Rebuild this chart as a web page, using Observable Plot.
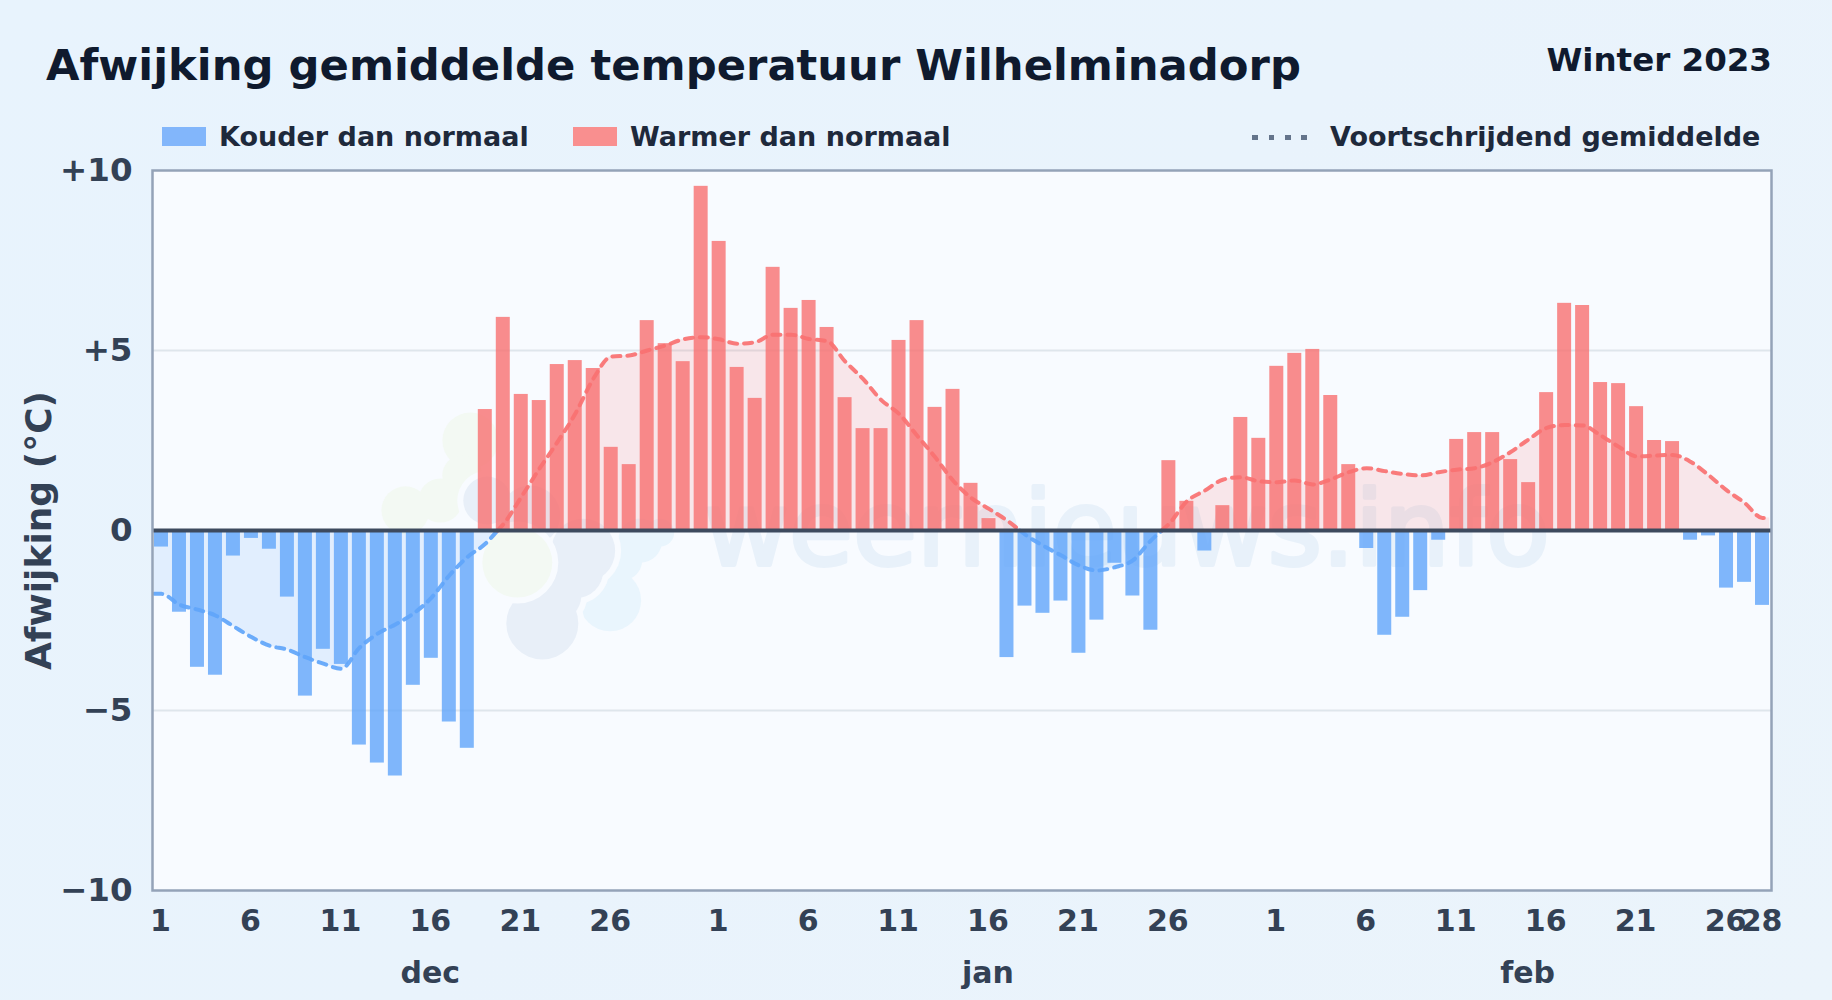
<!DOCTYPE html>
<html lang="nl">
<head>
<meta charset="utf-8">
<script src="https://cdn.jsdelivr.net/npm/d3@7"></script>
<script src="https://cdn.jsdelivr.net/npm/@observablehq/plot@0.6"></script>
<style>
  html, body { margin: 0; padding: 0; width: 1832px; height: 1000px; overflow: hidden;
    background: linear-gradient(135deg, #e8f3fd 0%, #e9f3fc 50%, #ebf4fb 100%);
    font-family: "DejaVu Sans", sans-serif; font-weight: 700; }
  #head { position: relative; height: 150px; }
  #head > * { position: absolute; white-space: nowrap; line-height: 1; }
  #title { left: 46px; top: 44px; font-size: 43.3px; color: #0f1a2e; }
  #season { right: 60px; top: 44px; font-size: 32.5px; color: #0f1a2e; }
  .lg { font-size: 27px; color: #1e293b; top: 122.5px; }
  .sw { width: 44px; height: 19px; top: 127px; }
  #dash { left: 1252px; top: 134.5px; width: 56px; height: 5px;
    background: repeating-linear-gradient(90deg, #64748b 0 6px, transparent 6px 16.5px); }
</style>
</head>
<body>
<div id="head">
  <div id="title">Afwijking gemiddelde temperatuur Wilhelminadorp</div>
  <div id="season">Winter 2023</div>
  <div class="sw" style="left:162px;background:#82b6fb"></div>
  <div class="lg" style="left:219px">Kouder dan normaal</div>
  <div class="sw" style="left:573px;background:#f98f8f"></div>
  <div class="lg" style="left:630px">Warmer dan normaal</div>
  <div id="dash"></div>
  <div class="lg" style="left:1330px">Voortschrijdend gemiddelde</div>
</div>
<div id="chart"></div>
<script>
// Daily deviation from normal, 1 Dec – 28 Feb
const decValues = [-0.46,-2.27,-3.80,-4.02,-0.71,-0.22,-0.52,-1.85,-4.60,-3.30,-3.72,-5.96,-6.46,-6.82,-4.30,-3.55,-5.32,-6.05,3.36,5.92,3.78,3.61,4.61,4.72,4.50,2.31,1.83,5.83,5.19,4.69,9.56];
const janValues = [8.03,4.53,3.67,7.31,6.17,6.39,5.64,3.69,2.83,2.83,5.28,5.83,3.42,3.92,1.31,0.33,-3.53,-2.10,-2.30,-1.96,-3.41,-2.49,-0.91,-1.82,-2.77,1.94,0.81,-0.57,0.69,3.14,2.56];
const febValues = [4.56,4.92,5.03,3.75,1.83,-0.50,-2.91,-2.41,-1.67,-0.27,2.53,2.72,2.72,1.97,1.33,3.83,6.31,6.25,4.11,4.08,3.44,2.50,2.47,-0.27,-0.15,-1.60,-1.44,-2.08];

// Moving average: left edge, every day, right edge
const maValues = [-1.76,-1.76,-2.06,-2.20,-2.36,-2.66,-2.96,-3.20,-3.31,-3.52,-3.70,-3.84,-3.26,-2.87,-2.61,-2.31,-1.87,-1.25,-0.74,-0.37,0.17,0.93,1.71,2.45,3.24,4.21,4.83,4.86,5.00,5.14,5.31,5.37,5.31,5.19,5.23,5.44,5.44,5.32,5.26,4.70,4.21,3.63,3.24,2.64,2.04,1.39,0.91,0.60,0.28,-0.11,-0.42,-0.69,-0.97,-1.11,-1.02,-0.83,-0.28,0.18,0.81,1.11,1.41,1.48,1.37,1.34,1.39,1.28,1.42,1.62,1.73,1.65,1.57,1.53,1.62,1.69,1.73,1.90,2.18,2.53,2.85,2.93,2.92,2.64,2.33,2.06,2.08,2.10,1.91,1.54,1.12,0.77,0.35,0.35];

const tickDays = [1,6,11,16,21,26,32,37,42,47,52,57,63,68,73,78,83,88,90];
const tickLabels = ["1","6","11","16","21","26","1","6","11","16","21","26","1","6","11","16","21","26","28"];
const monthDays = [16,47,77];
const monthLabels = ["dec","jan","feb"];
const yTicks = [-10,-5,0,5,10];
const yLabels = ["−10","−5","0","+5","+10"];
const gridValues = [-5,5];

// Faint logo behind the chart, one list of lobes (day, value, radius) per colour, back to front
const plotFill = "#f8fbff";
const logoGreenTop = [[18.17,2.5,28],[17.72,1.53,20],[16.5,0.83,22],[14.56,0.56,24]];
const logoLightBlue = [[25.94,-1.94,31],[26.61,-0.83,20],[27.61,-0.28,22],[28.72,-0.06,14]];
const logoGrey = [[19.11,0.83,24],[21.5,0.42,30],[24.44,-0.56,32],[24,-1.11,28],[22.89,-1.81,26],[22.17,-2.58,36]];
const logoGreenLow = [[20.78,-0.89,35]];
const logoParts = [[logoGreenTop,"#f3f9f3"],[logoLightBlue,"#e9f5fd"],[logoGrey,"#e8eff8"],[logoGreenLow,"#f3f9f3"]];

const values = [...decValues, ...janValues, ...febValues];
const days = values.map((v, i) => ({day: i + 1, v}));

// Split the moving average at its zero crossings so each part takes the sign's colour
const maX = [0.6, ...d3.range(1, 91), 90.4];
const maPts = [];
let seg = 0;
maValues.forEach((v, i) => {
  if (i > 0 && maValues[i - 1] * v < 0) {
    const u = maValues[i - 1], t = u / (u - v), x = maX[i - 1] + t * (maX[i] - maX[i - 1]);
    maPts.push({x, v: 0, seg, pos: u > 0});
    seg++;
    maPts.push({x, v: 0, seg, pos: v > 0});
  }
  maPts.push({x: maX[i], v, seg, pos: v > 0});
});

const blue = "#60a5fa", red = "#f87171", ink = "#334155";
const bold = {fontWeight: 700, color: ink, tickSize: 0};
const logoMarks = logoParts.flatMap(([lobes, fill]) => [
  Plot.dot(lobes, {x: d => d[0], y: d => d[1], r: d => d[2] + 6, fill: plotFill, stroke: null}),
  Plot.dot(lobes, {x: d => d[0], y: d => d[1], r: d => d[2], fill, stroke: null})
]);

const chart = Plot.plot({
  width: 1832, height: 850,
  marginLeft: 152, marginRight: 61, marginTop: 20, marginBottom: 110,
  style: {background: "transparent", fontFamily: "'DejaVu Sans', sans-serif", overflow: "visible", maxWidth: "none"},
  x: {domain: [0.5, 90.5], axis: null},
  y: {domain: [-10, 10], axis: null},
  r: {type: "identity"},
  marks: [
    Plot.frame({fill: plotFill, stroke: null}),
    ...logoMarks,
    Plot.text(["weernieuws.info"], {x: [54.67], y: [-0.97], text: d => d, lineAnchor: "bottom", fontSize: 104, fontWeight: 400, fill: "#e8f1fa", stroke: "#e8f1fa", strokeWidth: 4}),
    Plot.ruleY(gridValues, {stroke: "#dfe6ec", strokeWidth: 2}),
    Plot.areaY(maPts.filter(d => d.pos), {x: "x", y1: 0, y2: "v", z: "seg", fill: red, fillOpacity: 0.15, curve: "monotone-x"}),
    Plot.areaY(maPts.filter(d => !d.pos), {x: "x", y1: 0, y2: "v", z: "seg", fill: blue, fillOpacity: 0.15, curve: "monotone-x"}),
    Plot.rectY(days, {x1: d => d.day - 0.5, x2: d => d.day + 0.5, y1: 0, y2: "v", insetLeft: 2, insetRight: 2,
      fill: d => d.v < 0 ? blue : red, fillOpacity: 0.8}),
    Plot.line(maPts, {x: "x", y: "v", z: "seg", stroke: d => d.pos ? red : blue, strokeWidth: 4, strokeDasharray: "8,7", strokeLinecap: "round", strokeOpacity: 0.92, curve: "monotone-x"}),
    Plot.ruleY([0], {stroke: "#3d4a5e", strokeWidth: 4}),
    Plot.frame({stroke: "#94a3b8", strokeWidth: 2.5}),
    Plot.axisY({ticks: yTicks, tickFormat: d => yLabels[yTicks.indexOf(d)], tickPadding: 20, fontSize: 32.5, label: null, ...bold}),
    Plot.axisX({ticks: tickDays, tickFormat: d => tickLabels[tickDays.indexOf(d)], tickPadding: 19, fontSize: 30, dx: -1, label: null, ...bold}),
    Plot.axisX({ticks: monthDays, tickFormat: d => monthLabels[monthDays.indexOf(d)], tickPadding: 71, fontSize: 30, dx: -1, label: null, ...bold}),
    Plot.text(["Afwijking (°C)"], {frameAnchor: "left", textAnchor: "middle", rotate: -90, dx: -113, text: d => d, fontSize: 36, fontWeight: 700, fill: ink})
  ]
});
document.getElementById("chart").appendChild(chart);
</script>
</body>
</html>
